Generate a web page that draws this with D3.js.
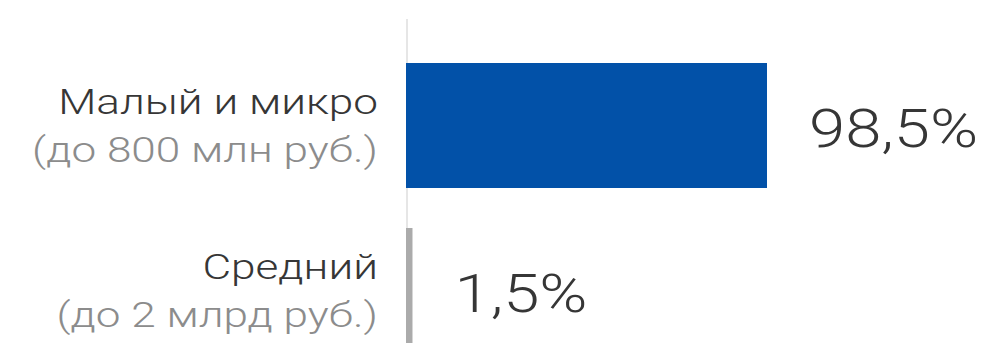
<!DOCTYPE html>
<html>
<head>
<meta charset="utf-8">
<script src="https://cdn.jsdelivr.net/npm/d3@7"></script>
<style>
  html, body { margin: 0; padding: 0; background: #fff; }
  svg { display: block; }
  text { font-family: Roboto, "Noto Sans", sans-serif; font-weight: 300; }
</style>
</head>
<body>
<svg id="chart" width="1005" height="343"></svg>
<script>
// Доля компаний по размеру бизнеса
const categories = ["Малый и микро", "Средний"];
const subtitles = ["(до 800 млн руб.)", "(до 2 млрд руб.)"];
const values = [98.5, 1.5];
const valueLabels = ["98,5%", "1,5%"];
const barColors = ["#0251a8", "#ababab"];

const width = 1005, height = 343;
const labelStretch = 1.26; // wide letterforms
const valueStretch = 1.23;
const svg = d3.select("#chart");

const x0 = 407;
const x = d3.scaleLinear().domain([0, 98.5]).range([x0, 767]);
const y = d3.scaleBand().domain(categories).range([63, 353]).paddingInner(40 / 165).paddingOuter(0);

// baseline axis line
svg.append("line")
  .attr("x1", x0).attr("x2", x0)
  .attr("y1", 19).attr("y2", height)
  .attr("stroke", "#e6e6e6").attr("stroke-width", 2);

const g = svg.selectAll("g.row").data(categories).join("g").attr("class", "row");

g.append("rect")
  .attr("x", x(0) - 1)
  .attr("y", d => y(d))
  .attr("width", (d, i) => x(values[i]) - x(0) + 1)
  .attr("height", y.bandwidth())
  .attr("fill", (d, i) => barColors[i]);

const place = (tx, ty, s) => `translate(${tx},${ty}) scale(${s},1)`;

g.append("text")
  .attr("transform", d => place(378, y(d) + 51, labelStretch))
  .attr("text-anchor", "end")
  .attr("font-size", 35)
  .attr("fill", "#363636")
  .text(d => d);

g.append("text")
  .attr("transform", d => place(378, y(d) + 99, labelStretch))
  .attr("text-anchor", "end")
  .attr("font-size", 35)
  .attr("fill", "#8c8c8c")
  .text((d, i) => subtitles[i]);

g.append("text")
  .attr("transform", (d, i) => place(x(values[i]) + 42, y(d) + y.bandwidth() / 2 + 21, valueStretch))
  .attr("font-size", 53)
  .attr("fill", "#363636")
  .text((d, i) => valueLabels[i]);
</script>
</body>
</html>
